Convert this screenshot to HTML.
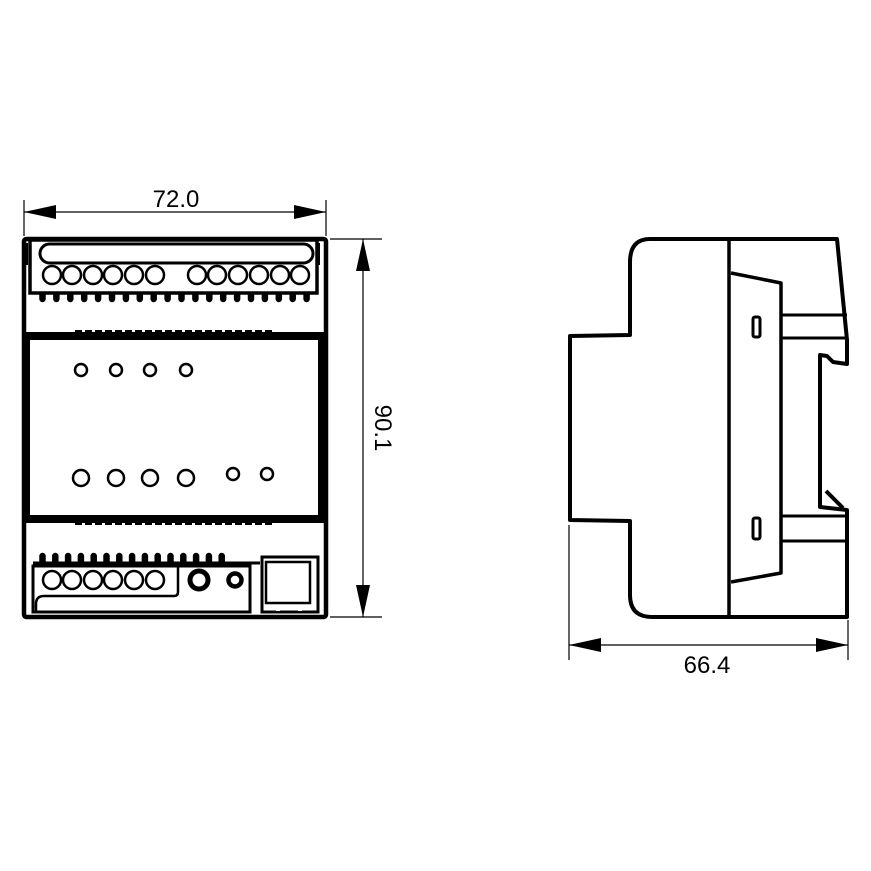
<!DOCTYPE html>
<html><head><meta charset="utf-8"><style>
html,body{margin:0;padding:0;background:#fff;}
svg{display:block;}
</style></head><body>
<svg width="871" height="871" viewBox="0 0 871 871" xmlns="http://www.w3.org/2000/svg" xmlns:xlink="http://www.w3.org/1999/xlink">
<rect width="871" height="871" fill="#fff"/>
<g stroke="#000" stroke-width="1.2" fill="none">
<line x1="24" y1="200" x2="24" y2="236"/>
<line x1="326" y1="200" x2="326" y2="236"/>
<line x1="24" y1="212" x2="326" y2="212"/>
<line x1="330" y1="239" x2="382" y2="239"/>
<line x1="330" y1="617" x2="382" y2="617"/>
<line x1="363" y1="239" x2="363" y2="617"/>
<line x1="569" y1="525" x2="569" y2="660"/>
<line x1="848" y1="620" x2="848" y2="660"/>
<line x1="569" y1="645" x2="848" y2="645"/>
</g>
<g fill="#000">
<polygon points="24,212 56,205 56,219"/>
<polygon points="326,212 294,205 294,219"/>
<polygon points="363,239 356,271 370,271"/>
<polygon points="363,617 356,585 370,585"/>
<polygon points="569,645 601,638 601,652"/>
<polygon points="848,645 816,638 816,652"/>
</g>
<g font-family="Liberation Sans, sans-serif" font-size="24" fill="#000">
<text x="176" y="207" text-anchor="middle">72.0</text>
<text x="707" y="673" text-anchor="middle">66.4</text>
<text transform="translate(375,428) rotate(90)" text-anchor="middle">90.1</text>
</g>

<g stroke="#000" fill="none">
<path d="M24,242 Q24,239 27,239 L323,239 Q326,239 326,242 L326,614 Q326,617 323,617 L27,617 Q24,617 24,614 Z" stroke-width="4.5"/>
<rect x="30" y="240" width="287" height="53" stroke-width="3.5"/>
<rect x="40" y="244" width="273" height="19" rx="9.5" stroke-width="3"/>
<line x1="319" y1="243" x2="319" y2="265" stroke-width="2"/>
<line x1="27" y1="243" x2="27" y2="265" stroke-width="2"/>
<g stroke-width="2.5">
<circle cx="52" cy="275" r="9"/><circle cx="72" cy="275" r="9"/><circle cx="93" cy="275" r="9"/><circle cx="113" cy="275" r="9"/><circle cx="134" cy="275" r="9"/><circle cx="155" cy="275" r="9"/>
<circle cx="197" cy="275" r="9"/><circle cx="217" cy="275" r="9"/><circle cx="238" cy="275" r="9"/><circle cx="259" cy="275" r="9"/><circle cx="280" cy="275" r="9"/><circle cx="300" cy="275" r="9"/>
</g>
<rect x="26" y="336" width="296" height="183" stroke-width="8"/>
<g stroke-width="2.5">
<circle cx="81" cy="370" r="6"/><circle cx="116" cy="370" r="6"/><circle cx="150" cy="370" r="6"/><circle cx="186" cy="370" r="6"/>
<circle cx="81" cy="478" r="8"/><circle cx="116" cy="478" r="8"/><circle cx="150" cy="478" r="8"/><circle cx="186" cy="478" r="8"/>
<circle cx="233" cy="474" r="6"/><circle cx="267" cy="474" r="6"/>
</g>
<line x1="75" y1="331" x2="272" y2="331" stroke-width="2" stroke-dasharray="7,3"/>
<line x1="75" y1="524" x2="272" y2="524" stroke-width="2" stroke-dasharray="7,3"/>
<path d="M33,566 L33,612 L250,612 L250,566 Z" stroke-width="3"/>
<line x1="33" y1="563" x2="260" y2="563" stroke-width="3"/>
<path d="M178,566 L178,592 Q178,596 174,596 L44,596 Q36,596 36,604 L36,612" stroke-width="2.5"/>
<g stroke-width="2.5">
<circle cx="52" cy="580" r="9"/><circle cx="72" cy="580" r="9"/><circle cx="93" cy="580" r="9"/><circle cx="113" cy="580" r="9"/><circle cx="134" cy="580" r="9"/><circle cx="155" cy="580" r="9"/>
</g>
<circle cx="199" cy="580" r="9" stroke-width="5"/>
<circle cx="235" cy="580" r="6.5" stroke-width="4.5"/>
<rect x="262" y="557" width="56" height="55" stroke-width="3"/>
<rect x="266" y="562" width="44" height="41" stroke-width="2.5"/>
</g>
<g fill="#000" stroke="#000" stroke-width="1.5">
<path d="M40,293 v6 a2.5,2.5 0 0 0 5,0 v-6z M53.9,293 v6 a2.5,2.5 0 0 0 5,0 v-6z M67.8,293 v6 a2.5,2.5 0 0 0 5,0 v-6z M81.7,293 v6 a2.5,2.5 0 0 0 5,0 v-6z M95.6,293 v6 a2.5,2.5 0 0 0 5,0 v-6z M109.5,293 v6 a2.5,2.5 0 0 0 5,0 v-6z M123.4,293 v6 a2.5,2.5 0 0 0 5,0 v-6z M137.3,293 v6 a2.5,2.5 0 0 0 5,0 v-6z M151.2,293 v6 a2.5,2.5 0 0 0 5,0 v-6z M165.1,293 v6 a2.5,2.5 0 0 0 5,0 v-6z M179,293 v6 a2.5,2.5 0 0 0 5,0 v-6z M192.9,293 v6 a2.5,2.5 0 0 0 5,0 v-6z M206.8,293 v6 a2.5,2.5 0 0 0 5,0 v-6z M220.7,293 v6 a2.5,2.5 0 0 0 5,0 v-6z M234.6,293 v6 a2.5,2.5 0 0 0 5,0 v-6z M248.5,293 v6 a2.5,2.5 0 0 0 5,0 v-6z M262.4,293 v6 a2.5,2.5 0 0 0 5,0 v-6z M276.3,293 v6 a2.5,2.5 0 0 0 5,0 v-6z M290.2,293 v6 a2.5,2.5 0 0 0 5,0 v-6z M304.1,293 v6 a2.5,2.5 0 0 0 5,0 v-6z"/>
<path d="M40,563 v-7 a2.5,2.5 0 0 1 5,0 v7z M52.8,563 v-7 a2.5,2.5 0 0 1 5,0 v7z M65.6,563 v-7 a2.5,2.5 0 0 1 5,0 v7z M78.4,563 v-7 a2.5,2.5 0 0 1 5,0 v7z M91.2,563 v-7 a2.5,2.5 0 0 1 5,0 v7z M104,563 v-7 a2.5,2.5 0 0 1 5,0 v7z M116.8,563 v-7 a2.5,2.5 0 0 1 5,0 v7z M129.6,563 v-7 a2.5,2.5 0 0 1 5,0 v7z M142.4,563 v-7 a2.5,2.5 0 0 1 5,0 v7z M155.2,563 v-7 a2.5,2.5 0 0 1 5,0 v7z M168,563 v-7 a2.5,2.5 0 0 1 5,0 v7z M180.8,563 v-7 a2.5,2.5 0 0 1 5,0 v7z M193.6,563 v-7 a2.5,2.5 0 0 1 5,0 v7z M206.4,563 v-7 a2.5,2.5 0 0 1 5,0 v7z M219.2,563 v-7 a2.5,2.5 0 0 1 5,0 v7z"/>
</g>
<g fill="#fff">
<rect x="276" y="608" width="4" height="3"/>
<rect x="298" y="608" width="4" height="3"/>
</g>

<g stroke="#000" fill="none" stroke-width="4" stroke-linejoin="round">
<path d="M650,239 L837,239 L847,340 L847,364 L833,362 L827,356 L820,355 L820,507 L847,510 L847,617 L652,617 Q630,617 630,595 L630,521 L570,520 L570,336 L630,335 L630,262 Q630,239 650,239 Z"/>
<path d="M826,491 L843,508"/>
<line x1="729" y1="241" x2="729" y2="615" stroke-width="3.5"/>
<path d="M731,273 L781,283 L781,573 L731,582" stroke-width="3.5"/>
<line x1="781" y1="315" x2="847" y2="315" stroke-width="3"/>
<line x1="781" y1="338" x2="847" y2="338" stroke-width="3"/>
<line x1="781" y1="516" x2="847" y2="516" stroke-width="3"/>
<line x1="781" y1="541" x2="847" y2="541" stroke-width="3"/>
<rect x="753" y="317" width="7" height="20" rx="2" stroke-width="3"/>
<rect x="753" y="518" width="7" height="21" rx="2" stroke-width="3"/>
</g>
</svg>
</body></html>
